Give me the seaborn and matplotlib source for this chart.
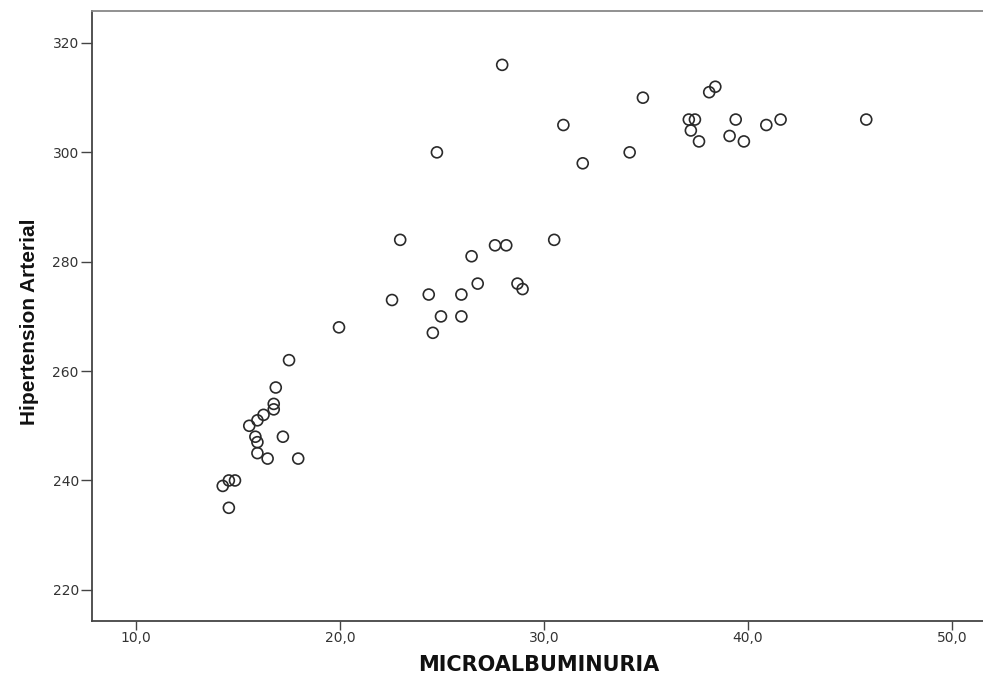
import matplotlib
matplotlib.use("Agg")
import matplotlib.pyplot as plt
import seaborn as sns
import pandas as pd
from matplotlib.ticker import FuncFormatter, FixedLocator

microalbuminuria = [
    17.5, 16.85, 16.75, 16.75, 16.25, 15.95, 15.55, 15.85, 15.95, 17.2,
    15.95, 16.45, 17.95, 14.25, 14.55, 14.85, 14.55, 19.95,
    27.95, 30.95, 24.75, 31.9, 34.2, 22.95, 27.6, 28.15, 30.5, 26.45,
    26.75, 28.7, 28.95, 22.55, 24.35, 25.95, 24.95, 25.95, 24.55,
    34.85, 38.4, 38.1, 37.1, 37.4, 37.2, 37.6, 39.4, 39.1, 39.8,
    40.9, 41.6, 45.8,
]
hipertension = [
    262, 257, 254, 253, 252, 251, 250, 248, 247, 248,
    245, 244, 244, 239, 240, 240, 235, 268,
    316, 305, 300, 298, 300, 284, 283, 283, 284, 281,
    276, 276, 275, 273, 274, 274, 270, 270, 267,
    310, 312, 311, 306, 306, 304, 302, 306, 303, 302,
    305, 306, 306,
]
x_ticks = [10, 20, 30, 40, 50]
y_ticks = [220, 240, 260, 280, 300, 320]

df = pd.DataFrame({"MICROALBUMINURIA": microalbuminuria,
                   "Hipertension Arterial": hipertension})

sns.set_style("white")
plt.rcParams["font.family"] = ["DejaVu Sans"]

fig = plt.figure(figsize=(9.83, 6.84), dpi=100)
ax = fig.add_axes([92 / 983, 1 - 621 / 684, 1 - 92 / 983 + 0.002, (621 - 11) / 684])

sns.scatterplot(data=df, x="MICROALBUMINURIA", y="Hipertension Arterial", ax=ax,
                marker="o", s=62, facecolor="none", edgecolor="#2a2a2a",
                linewidth=1.2, legend=False)

ax.set_xlim(7.84, 51.62)
ax.set_ylim(214.3, 325.85)
ax.xaxis.set_major_locator(FixedLocator(x_ticks))
ax.yaxis.set_major_locator(FixedLocator(y_ticks))
ax.xaxis.set_major_formatter(FuncFormatter(lambda v, p: f"{v:.1f}".replace(".", ",")))
ax.yaxis.set_major_formatter(FuncFormatter(lambda v, p: f"{v:.0f}"))

for side in ["left", "bottom"]:
    ax.spines[side].set_color("#444444")
    ax.spines[side].set_linewidth(1.3)
ax.spines["top"].set_color("#888888")
ax.spines["top"].set_linewidth(1.3)
ax.spines["right"].set_visible(False)

ax.tick_params(axis="both", which="major", direction="out", width=1.0,
               color="#444444", labelsize=10, labelcolor="#333333",
               bottom=True, left=True)
ax.tick_params(axis="y", length=8, pad=1.5)
ax.tick_params(axis="x", length=6.5, pad=1.0)

ax.set_xlabel("MICROALBUMINURIA", fontsize=15, fontweight="bold", color="#111111",
              labelpad=7)
ax.set_ylabel("Hipertension Arterial", fontsize=15, fontweight="bold", color="#111111",
              family=["Liberation Sans", "DejaVu Sans"], labelpad=9)
ax.yaxis.set_label_coords(-0.0595, 0.49)

fig.savefig("out.png", dpi=100)
